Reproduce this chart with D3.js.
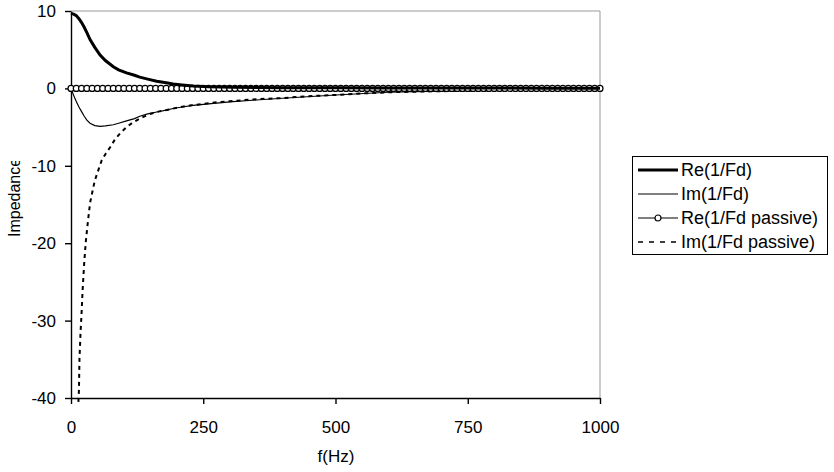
<!DOCTYPE html>
<html>
<head>
<meta charset="utf-8">
<script src="https://cdn.jsdelivr.net/npm/d3@7"></script>
<style>
  body { margin: 0; background: #fff; }
  svg { display: block; font-family: "Liberation Sans", Arial, sans-serif; }
  .tick text { font-size: 17px; fill: #000; }
</style>
</head>
<body>
<svg width="834" height="472"></svg>
<script>

// Re(1/Fd) and Im(1/Fd)
var fdFreq = [0, 5, 10, 15, 20, 25, 30, 36, 45, 55, 65, 80, 90, 105, 120, 130, 145, 162, 180, 193, 210, 231, 260, 306, 350, 400, 500, 600, 700, 800, 900, 1000];
var reFd = [9.7, 9.6, 9.4, 9.0, 8.5, 7.9, 7.2, 6.3, 5.3, 4.3, 3.6, 2.8, 2.4, 2.0, 1.7, 1.45, 1.2, 0.93, 0.72, 0.58, 0.45, 0.32, 0.22, 0.15, 0.12, 0.1, 0.08, 0.06, 0.05, 0.04, 0.03, 0.03];
var imFd = [0, -0.9, -1.7, -2.4, -3.0, -3.6, -4.1, -4.5, -4.8, -4.9, -4.85, -4.7, -4.5, -4.2, -3.9, -3.6, -3.3, -3.05, -2.8, -2.6, -2.4, -2.2, -2.0, -1.7, -1.5, -1.27, -0.85, -0.5, -0.36, -0.25, -0.15, -0.08];

// Im(1/Fd passive)
var passFreq = [14, 15, 16, 18, 20, 22, 25, 28, 31, 36, 40, 45, 52, 58, 65, 74, 83, 93, 105, 117, 130, 149, 165, 181, 200, 225, 250, 275, 300, 350, 400, 450, 500, 550, 600, 650, 700, 750, 800, 850, 900, 950, 1000];
var imPass = [-40.5, -39, -35, -31.6, -29, -26, -22.5, -19.8, -17.8, -14.8, -13.5, -11.9, -10.5, -9.3, -8.5, -7.6, -6.6, -5.8, -5.0, -4.4, -3.9, -3.3, -3.0, -2.8, -2.5, -2.2, -2.0, -1.8, -1.65, -1.4, -1.25, -1.0, -0.85, -0.65, -0.5, -0.42, -0.36, -0.3, -0.25, -0.2, -0.16, -0.12, -0.1];

// Re(1/Fd passive), one marker every 10 Hz
var reFreq = [0, 10, 20, 30, 40, 50, 60, 70, 80, 90, 100, 110, 120, 130, 140, 150, 160, 170, 180, 190,
  200, 210, 220, 230, 240, 250, 260, 270, 280, 290, 300, 310, 320, 330, 340, 350, 360, 370, 380, 390,
  400, 410, 420, 430, 440, 450, 460, 470, 480, 490, 500, 510, 520, 530, 540, 550, 560, 570, 580, 590,
  600, 610, 620, 630, 640, 650, 660, 670, 680, 690, 700, 710, 720, 730, 740, 750, 760, 770, 780, 790,
  800, 810, 820, 830, 840, 850, 860, 870, 880, 890, 900, 910, 920, 930, 940, 950, 960, 970, 980, 990, 1000];
var rePass = [0, 0, 0, 0, 0, 0, 0, 0, 0, 0, 0, 0, 0, 0, 0, 0, 0, 0, 0, 0,
  0, 0, 0, 0, 0, 0, 0, 0, 0, 0, 0, 0, 0, 0, 0, 0, 0, 0, 0, 0,
  0, 0, 0, 0, 0, 0, 0, 0, 0, 0, 0, 0, 0, 0, 0, 0, 0, 0, 0, 0,
  0, 0, 0, 0, 0, 0, 0, 0, 0, 0, 0, 0, 0, 0, 0, 0, 0, 0, 0, 0,
  0, 0, 0, 0, 0, 0, 0, 0, 0, 0, 0, 0, 0, 0, 0, 0, 0, 0, 0, 0, 0];

var xTicks = [0, 250, 500, 750, 1000];
var yTicks = [10, 0, -10, -20, -30, -40];
var legendNames = ["Re(1/Fd)", "Im(1/Fd)", "Re(1/Fd passive)", "Im(1/Fd passive)"];

var svg = d3.select("svg");
var plotL = 71, plotR = 600, plotT = 11, plotB = 398;

var x = d3.scaleLinear().domain([0, 1000]).range([plotL, plotR]);
var y = d3.scaleLinear().domain([-40, 10]).range([plotB, plotT]);

function pairs(fs, vs) {
  return fs.map(function(f, i) { return [f, vs[i]]; });
}

var line = d3.line()
  .x(function(d) { return x(d[0]); })
  .y(function(d) { return y(d[1]); });

// gray frame on top and right
svg.append("path")
  .attr("d", "M" + plotL + "," + plotT + "H" + plotR + "V" + plotB)
  .attr("fill", "none")
  .attr("stroke", "#999")
  .attr("stroke-width", 1);

// axes (plain hyphen for negatives, like the original)
svg.append("g")
  .attr("transform", "translate(" + plotL + ",0)")
  .call(d3.axisLeft(y).tickValues(yTicks).tickFormat(function(d) { return String(d); })
    .tickSize(6).tickPadding(9).tickSizeOuter(0));

svg.append("g")
  .attr("transform", "translate(0," + plotB + ")")
  .call(d3.axisBottom(x).tickValues(xTicks).tickFormat(function(d) { return String(d); })
    .tickSize(6).tickPadding(17).tickSizeOuter(0));

svg.selectAll(".domain, .tick line").attr("stroke", "#000").attr("stroke-width", 1.4);

// series
svg.append("path")
  .datum(pairs(passFreq, imPass))
  .attr("d", line)
  .attr("fill", "none")
  .attr("stroke", "#000")
  .attr("stroke-width", 2)
  .attr("stroke-dasharray", "4,4");

svg.append("path")
  .datum(pairs(fdFreq, imFd))
  .attr("d", line)
  .attr("fill", "none")
  .attr("stroke", "#000")
  .attr("stroke-width", 1.2);

svg.append("path")
  .datum(pairs(reFreq, rePass))
  .attr("d", line)
  .attr("fill", "none")
  .attr("stroke", "#000")
  .attr("stroke-width", 1);

svg.append("g")
  .selectAll("circle")
  .data(pairs(reFreq, rePass))
  .enter().append("circle")
  .attr("cx", function(d) { return x(d[0]); })
  .attr("cy", function(d) { return y(d[1]); })
  .attr("r", 3)
  .attr("fill", "#fff")
  .attr("stroke", "#000")
  .attr("stroke-width", 1.2);

svg.append("path")
  .datum(pairs(fdFreq, reFd))
  .attr("d", line)
  .attr("fill", "none")
  .attr("stroke", "#000")
  .attr("stroke-width", 3);

// axis titles
svg.append("text")
  .attr("x", 336)
  .attr("y", 462)
  .attr("text-anchor", "middle")
  .style("font-size", "17px")
  .text("f(Hz)");

svg.append("clipPath")
  .attr("id", "ylab-clip")
  .append("rect")
  .attr("x", 0).attr("y", 161).attr("width", 40).attr("height", 120);

svg.append("g")
  .attr("clip-path", "url(#ylab-clip)")
  .append("text")
  .attr("transform", "translate(20,237) rotate(-90)")
  .attr("text-anchor", "start")
  .style("font-size", "16px")
  .text("Impedance");

// legend
var legend = svg.append("g").attr("class", "legend");

legend.append("rect")
  .attr("x", 632.5).attr("y", 156.5)
  .attr("width", 195).attr("height", 98)
  .attr("fill", "#fff")
  .attr("stroke", "#000")
  .attr("stroke-width", 1);

var row = legend.selectAll(".row")
  .data(legendNames)
  .enter().append("g")
  .attr("class", "row")
  .attr("transform", function(d, i) { return "translate(0," + (170 + i * 24) + ")"; });

row.append("line")
  .attr("x1", 638).attr("x2", 678)
  .attr("stroke", "#000")
  .attr("stroke-width", function(d, i) { return i == 0 ? 3 : (i == 3 ? 1.5 : 1.2); })
  .attr("stroke-dasharray", function(d, i) { return i == 3 ? "5,6" : null; });

row.filter(function(d, i) { return i == 2; })
  .append("circle")
  .attr("cx", 658).attr("r", 3)
  .attr("fill", "#fff")
  .attr("stroke", "#000")
  .attr("stroke-width", 1.2);

row.append("text")
  .attr("x", 681)
  .attr("dy", "0.35em")
  .style("font-size", "18px")
  .text(function(d) { return d; });

</script>
</body>
</html>
